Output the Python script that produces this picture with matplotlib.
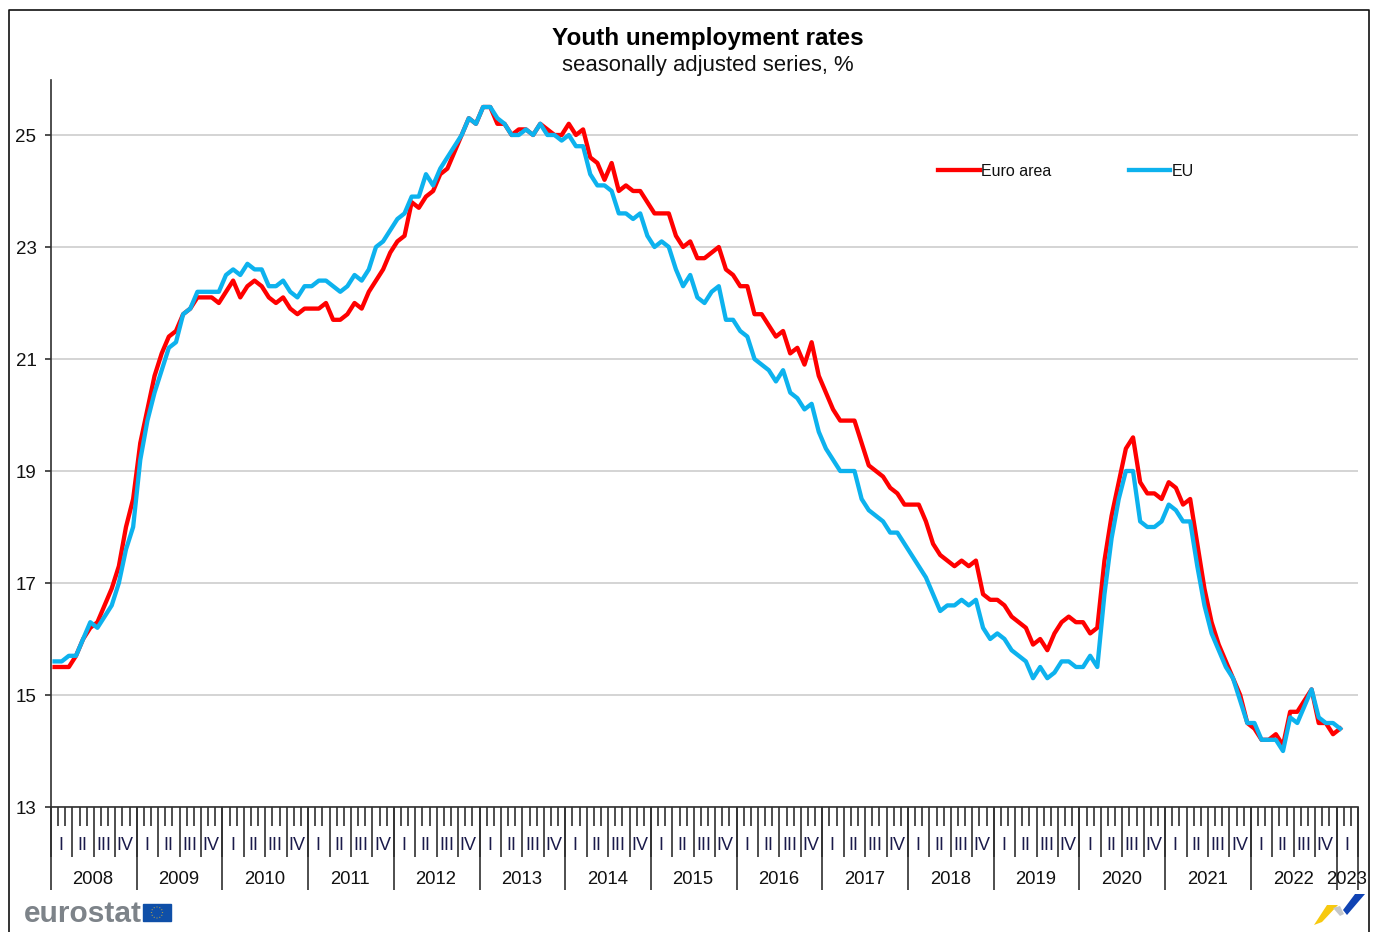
import numpy as np
import matplotlib
matplotlib.use("Agg")
import matplotlib.pyplot as plt
from matplotlib.lines import Line2D
from matplotlib.patches import Polygon, Rectangle, Circle

plt.rcParams["font.family"] = ["Liberation Sans", "DejaVu Sans"]

# monthly values, Jan 2008 - Jan 2023
euro_area = [
    15.5, 15.5, 15.5, 15.7, 16.0, 16.2, 16.3, 16.6, 16.9, 17.3, 18.0, 18.5,
    19.5, 20.1, 20.7, 21.1, 21.4, 21.5, 21.8, 21.9, 22.1, 22.1, 22.1, 22.0,
    22.2, 22.4, 22.1, 22.3, 22.4, 22.3, 22.1, 22.0, 22.1, 21.9, 21.8, 21.9,
    21.9, 21.9, 22.0, 21.7, 21.7, 21.8, 22.0, 21.9, 22.2, 22.4, 22.6, 22.9,
    23.1, 23.2, 23.8, 23.7, 23.9, 24.0, 24.3, 24.4, 24.7, 25.0, 25.3, 25.2,
    25.5, 25.5, 25.2, 25.2, 25.0, 25.1, 25.1, 25.0, 25.2, 25.1, 25.0, 25.0,
    25.2, 25.0, 25.1, 24.6, 24.5, 24.2, 24.5, 24.0, 24.1, 24.0, 24.0, 23.8,
    23.6, 23.6, 23.6, 23.2, 23.0, 23.1, 22.8, 22.8, 22.9, 23.0, 22.6, 22.5,
    22.3, 22.3, 21.8, 21.8, 21.6, 21.4, 21.5, 21.1, 21.2, 20.9, 21.3, 20.7,
    20.4, 20.1, 19.9, 19.9, 19.9, 19.5, 19.1, 19.0, 18.9, 18.7, 18.6, 18.4,
    18.4, 18.4, 18.1, 17.7, 17.5, 17.4, 17.3, 17.4, 17.3, 17.4, 16.8, 16.7,
    16.7, 16.6, 16.4, 16.3, 16.2, 15.9, 16.0, 15.8, 16.1, 16.3, 16.4, 16.3,
    16.3, 16.1, 16.2, 17.4, 18.2, 18.8, 19.4, 19.6, 18.8, 18.6, 18.6, 18.5,
    18.8, 18.7, 18.4, 18.5, 17.7, 16.9, 16.3, 15.9, 15.6, 15.3, 15.0, 14.5,
    14.4, 14.2, 14.2, 14.3, 14.1, 14.7, 14.7, 14.9, 15.1, 14.5, 14.5, 14.3,
    14.4,
]
eu = [
    15.6, 15.6, 15.7, 15.7, 16.0, 16.3, 16.2, 16.4, 16.6, 17.0, 17.6, 18.0,
    19.2, 19.9, 20.4, 20.8, 21.2, 21.3, 21.8, 21.9, 22.2, 22.2, 22.2, 22.2,
    22.5, 22.6, 22.5, 22.7, 22.6, 22.6, 22.3, 22.3, 22.4, 22.2, 22.1, 22.3,
    22.3, 22.4, 22.4, 22.3, 22.2, 22.3, 22.5, 22.4, 22.6, 23.0, 23.1, 23.3,
    23.5, 23.6, 23.9, 23.9, 24.3, 24.1, 24.4, 24.6, 24.8, 25.0, 25.3, 25.2,
    25.5, 25.5, 25.3, 25.2, 25.0, 25.0, 25.1, 25.0, 25.2, 25.0, 25.0, 24.9,
    25.0, 24.8, 24.8, 24.3, 24.1, 24.1, 24.0, 23.6, 23.6, 23.5, 23.6, 23.2,
    23.0, 23.1, 23.0, 22.6, 22.3, 22.5, 22.1, 22.0, 22.2, 22.3, 21.7, 21.7,
    21.5, 21.4, 21.0, 20.9, 20.8, 20.6, 20.8, 20.4, 20.3, 20.1, 20.2, 19.7,
    19.4, 19.2, 19.0, 19.0, 19.0, 18.5, 18.3, 18.2, 18.1, 17.9, 17.9, 17.7,
    17.5, 17.3, 17.1, 16.8, 16.5, 16.6, 16.6, 16.7, 16.6, 16.7, 16.2, 16.0,
    16.1, 16.0, 15.8, 15.7, 15.6, 15.3, 15.5, 15.3, 15.4, 15.6, 15.6, 15.5,
    15.5, 15.7, 15.5, 16.8, 17.8, 18.5, 19.0, 19.0, 18.1, 18.0, 18.0, 18.1,
    18.4, 18.3, 18.1, 18.1, 17.3, 16.6, 16.1, 15.8, 15.5, 15.3, 14.9, 14.5,
    14.5, 14.2, 14.2, 14.2, 14.0, 14.6, 14.5, 14.8, 15.1, 14.6, 14.5, 14.5,
    14.4,
]
years = list(range(2008, 2024))
quarter_names = ["I", "II", "III", "IV"]
y_ticks = [13, 15, 17, 19, 21, 23, 25]

W, H = 1375, 932
n_months = 183  # axis runs to the end of March 2023
dark = "#303030"


def px(x, y):
    # picture pixels to figure fraction
    return x / W, 1 - y / H


fig = plt.figure(figsize=(W / 100, H / 100), dpi=100)
ax = fig.add_axes([51 / W, 1 - 807 / H, (1358 - 51) / W, (807 - 80) / H])

x = np.arange(len(eu)) + 0.5
ax.plot(x, euro_area, color="#ff0000", lw=3.1, label="Euro area", solid_joinstyle="round", clip_on=False)
ax.plot(x, eu, color="#0db2ee", lw=3.1, label="EU", solid_joinstyle="round", clip_on=False)

ax.set_xlim(0, n_months)
ax.set_ylim(13, 13 + (807 - 80) / 56)
ax.set_yticks(y_ticks)
ax.tick_params(axis="y", length=4.5, width=1.2, color=dark, labelsize=13.5, pad=6, labelcolor="#111111")
ax.grid(axis="y", color="#c9c9c9", lw=1.1)
ax.set_axisbelow(True)
for side in ["top", "right"]:
    ax.spines[side].set_visible(False)
for side in ["left", "bottom"]:
    ax.spines[side].set_color(dark)
    ax.spines[side].set_linewidth(1.2)

# three tick levels: month, quarter, year
ax.set_xticks(np.arange(0, n_months + 1), minor=True)
ax.set_xticks(np.arange(0, n_months + 1, 3))
ax.set_xticklabels([])
ax.tick_params(axis="x", which="minor", length=13.7, width=1.2, color=dark)
ax.tick_params(axis="x", which="major", length=36, width=1.2, color=dark)
year_edges = [12 * i for i in range(len(years))] + [n_months]
sec = ax.secondary_xaxis("bottom")
sec.set_xticks(year_edges)
sec.set_xticklabels([])
sec.tick_params(axis="x", length=60, width=1.2, color=dark)
sec.spines["bottom"].set_visible(False)

trans = ax.get_xaxis_transform()
for k in range(n_months // 3):
    ax.annotate(quarter_names[k % 4], (3 * k + 1.5, 0), xycoords=trans, xytext=(-0.5, -27.5),
                textcoords="offset points", ha="center", va="center", fontsize=13, color="#1a1a4a")
for i, yr in enumerate(years):
    mid = (year_edges[i] + year_edges[i + 1]) / 2
    ax.annotate(str(yr), (mid, 0), xycoords=trans, xytext=(-0.5, -52.2),
                textcoords="offset points", ha="center", va="center", fontsize=13.3, color="#111111")

ax.legend(loc="upper left", bbox_to_anchor=(887 / 1307, 1 - 84 / 727), ncol=2, frameon=False,
          fontsize=11.5, handlelength=2.6, handletextpad=0.1, columnspacing=4.85,
          borderaxespad=0, borderpad=0, labelcolor="#111111")

fig.text(*px(708, 38), "Youth unemployment rates", ha="center", va="center", fontsize=17.5, fontweight="bold")
fig.text(*px(708, 66), "seasonally adjusted series, %", ha="center", va="center", fontsize=15.9, color="#111111")

# outer frame, open at the bottom of the picture
fig.add_artist(Line2D([9 / W, 9 / W, 1369 / W, 1369 / W], [0, 1 - 10 / H, 1 - 10 / H, 0],
                      color="#111111", lw=1.2))

# eurostat logo
fig.text(*px(24, 914), "eurostat", ha="left", va="center", fontsize=21.5, fontweight="bold", color="#7d8389")
fx, fy = px(143, 921)
fig.add_artist(Rectangle((fx, fy), 28 / W, 17 / H, transform=fig.transFigure, color="#0f4fa8"))
cx, cy = px(157, 912.5)
for a in np.linspace(0, 2 * np.pi, 12, endpoint=False):
    fig.add_artist(Circle((cx + 5.5 * np.cos(a) / W, cy + 5.5 * np.sin(a) / H), 0.7 / W,
                          transform=fig.transFigure, color="#b9a64a", lw=0))

# swoosh mark bottom right
marks = [
    ([(1314, 925), (1327, 905), (1338, 905), (1322, 922)], "#f7c90f"),
    ([(1333, 908), (1340, 906), (1344, 914), (1340, 916)], "#c4c7ca"),
    ([(1343, 910), (1355, 894), (1365, 894), (1347, 915)], "#1043b4"),
]
for pts, col in marks:
    fig.add_artist(Polygon([px(*p) for p in pts], closed=True, transform=fig.transFigure, color=col, lw=0))

fig.savefig("out.png", dpi=100)
